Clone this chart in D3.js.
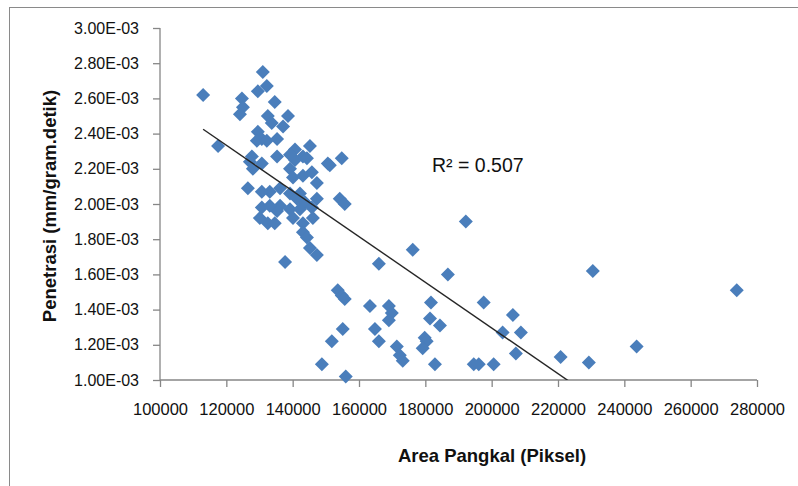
<!DOCTYPE html>
<html>
<head>
<meta charset="utf-8">
<script src="https://cdn.jsdelivr.net/npm/d3@7"></script>
<style>
  body { margin: 0; background: #fff; }
  text { font-family: "Liberation Sans", Arial, sans-serif; fill: #111; }
</style>
</head>
<body>
<script>
// Set up the SVG container
const width = 798;
const height = 486;

// Area Pangkal (piksel) and Penetrasi (mm/gram.detik)
const areaPangkal = [
  113000, 117500, 124700, 125000, 124100, 131000, 132200, 129500, 134600, 132500,
  133700, 138600, 137100, 129500, 130700, 129200, 132200, 135300, 140700, 139200,
  145200, 127700, 135300, 143100, 154800, 150600, 127100, 130700, 140700, 144300,
  151200, 139200, 140100, 143100, 145800, 147300, 136200, 133100, 139200, 142200,
  126500, 130700, 141300, 143700, 147300, 154200, 155700, 136200, 135300, 139200,
  142200, 130700, 133100, 130100, 132500, 134600, 140100, 143100, 146100, 143100,
  144300, 145200, 147300, 137700, 166000, 176200, 192200, 186800, 153600, 154800,
  155700, 163300, 169000, 169900, 169000, 181700, 181400, 184400, 197600, 206400,
  203300, 208800, 207300, 155100, 151800, 164800, 166000, 171400, 172300, 173200,
  179800, 180400, 179200, 148800, 182900, 194600, 196100, 200600, 156000, 230500,
  273900, 243700, 220800, 229300, 128000, 145800
];
const penetrasi = [
  2.62e-3, 2.33e-3, 2.60e-3, 2.55e-3, 2.51e-3, 2.75e-3, 2.67e-3, 2.64e-3, 2.58e-3, 2.50e-3,
  2.46e-3, 2.50e-3, 2.44e-3, 2.41e-3, 2.37e-3, 2.36e-3, 2.36e-3, 2.37e-3, 2.31e-3, 2.28e-3,
  2.33e-3, 2.27e-3, 2.27e-3, 2.27e-3, 2.26e-3, 2.23e-3, 2.24e-3, 2.23e-3, 2.25e-3, 2.26e-3,
  2.22e-3, 2.20e-3, 2.15e-3, 2.16e-3, 2.18e-3, 2.12e-3, 2.09e-3, 2.07e-3, 2.06e-3, 2.06e-3,
  2.09e-3, 2.07e-3, 2.03e-3, 2.01e-3, 2.03e-3, 2.03e-3, 2.00e-3, 1.99e-3, 1.96e-3, 1.97e-3,
  1.97e-3, 1.98e-3, 1.99e-3, 1.92e-3, 1.89e-3, 1.89e-3, 1.92e-3, 1.89e-3, 1.92e-3, 1.84e-3,
  1.81e-3, 1.75e-3, 1.71e-3, 1.67e-3, 1.66e-3, 1.74e-3, 1.90e-3, 1.60e-3, 1.51e-3, 1.48e-3,
  1.46e-3, 1.42e-3, 1.42e-3, 1.38e-3, 1.34e-3, 1.44e-3, 1.35e-3, 1.31e-3, 1.44e-3, 1.37e-3,
  1.27e-3, 1.27e-3, 1.15e-3, 1.29e-3, 1.22e-3, 1.29e-3, 1.22e-3, 1.19e-3, 1.14e-3, 1.11e-3,
  1.24e-3, 1.22e-3, 1.18e-3, 1.09e-3, 1.09e-3, 1.09e-3, 1.09e-3, 1.09e-3, 1.02e-3, 1.62e-3,
  1.51e-3, 1.19e-3, 1.13e-3, 1.10e-3, 2.20e-3, 1.98e-3
];

// Tick values
const xTicks = d3.range(100000, 280001, 20000);
const yTicks = d3.range(0, 11).map(i => 0.001 + i * 0.0002);

// Linear trendline (Excel) and its label
const trendSlope = -1.2977e-8;
const trendIntercept = 3.891e-3;
const r2Label = "R\u00B2 = 0.507";

const xLabel = "Area Pangkal (Piksel)";
const yLabel = "Penetrasi (mm/gram.detik)";

const data = areaPangkal.map((a, i) => ({ x: a, y: penetrasi[i] }));

const svg = d3.select("body")
  .append("svg")
  .attr("width", width)
  .attr("height", height);

// chart frame
svg.append("rect")
  .attr("x", 9.5).attr("y", 7.5)
  .attr("width", width).attr("height", height)
  .attr("fill", "none")
  .attr("stroke", "#8a8a8a")
  .attr("stroke-width", 1);

const x = d3.scaleLinear().domain([100000, 280000]).range([160, 757]);
const y = d3.scaleLinear().domain([0.001, 0.003]).range([380, 28]);

// "3.00E-03" style labels
function sci(v) {
  const parts = v.toExponential(2).split("e");
  const e = +parts[1];
  return parts[0] + "E" + (e < 0 ? "-" : "+") + String(Math.abs(e)).padStart(2, "0");
}

// Axes
const yAxis = svg.append("g")
  .attr("transform", "translate(160,0)")
  .call(d3.axisLeft(y).tickValues(yTicks).tickSize(7).tickPadding(14).tickFormat(sci));
const xAxis = svg.append("g")
  .attr("transform", "translate(0,380)")
  .call(d3.axisBottom(x).tickValues(xTicks).tickSize(7).tickPadding(16).tickFormat(d3.format("d")));

[xAxis, yAxis].forEach(g => {
  g.select(".domain").attr("stroke", "#868686").attr("stroke-width", 1.3);
  g.selectAll(".tick line").attr("stroke", "#868686").attr("stroke-width", 1.3);
  g.selectAll(".tick text")
    .style("font-family", "'Liberation Sans', Arial, sans-serif")
    .attr("fill", "#111");
});
yAxis.selectAll(".tick text").style("font-size", "16px");
xAxis.selectAll(".tick text").style("font-size", "16.5px");
yAxis.select(".domain").attr("d", "M0,28V380");
xAxis.select(".domain").attr("d", "M160,0H757");

// clip for the trendline
svg.append("clipPath").attr("id", "plot")
  .append("rect").attr("x", 160).attr("y", 28).attr("width", 597).attr("height", 352);

// Points
const diamond = 7;
svg.append("g")
  .selectAll("path")
  .data(data)
  .enter()
  .append("path")
  .attr("d", d => {
    const cx = x(d.x), cy = y(d.y);
    return `M${cx},${cy - diamond}L${cx + diamond},${cy}L${cx},${cy + diamond}L${cx - diamond},${cy}Z`;
  })
  .attr("fill", "#4a7ebb");

// Trendline from smallest to largest area
const xExt = d3.extent(areaPangkal);
svg.append("line")
  .attr("clip-path", "url(#plot)")
  .attr("x1", x(xExt[0]))
  .attr("y1", y(trendIntercept + trendSlope * xExt[0]))
  .attr("x2", x(xExt[1]))
  .attr("y2", y(trendIntercept + trendSlope * xExt[1]))
  .attr("stroke", "#262626")
  .attr("stroke-width", 1.4);

// R squared
svg.append("text")
  .attr("x", 432).attr("y", 172)
  .style("font-size", "19.5px")
  .text(r2Label);

// Axis titles
svg.append("text")
  .attr("x", 492).attr("y", 462)
  .attr("text-anchor", "middle")
  .style("font-size", "18.5px")
  .style("font-weight", "bold")
  .text(xLabel);

svg.append("text")
  .attr("transform", "translate(56,206) rotate(-90)")
  .attr("text-anchor", "middle")
  .style("font-size", "18.5px")
  .style("font-weight", "bold")
  .text(yLabel);
</script>
</body>
</html>
